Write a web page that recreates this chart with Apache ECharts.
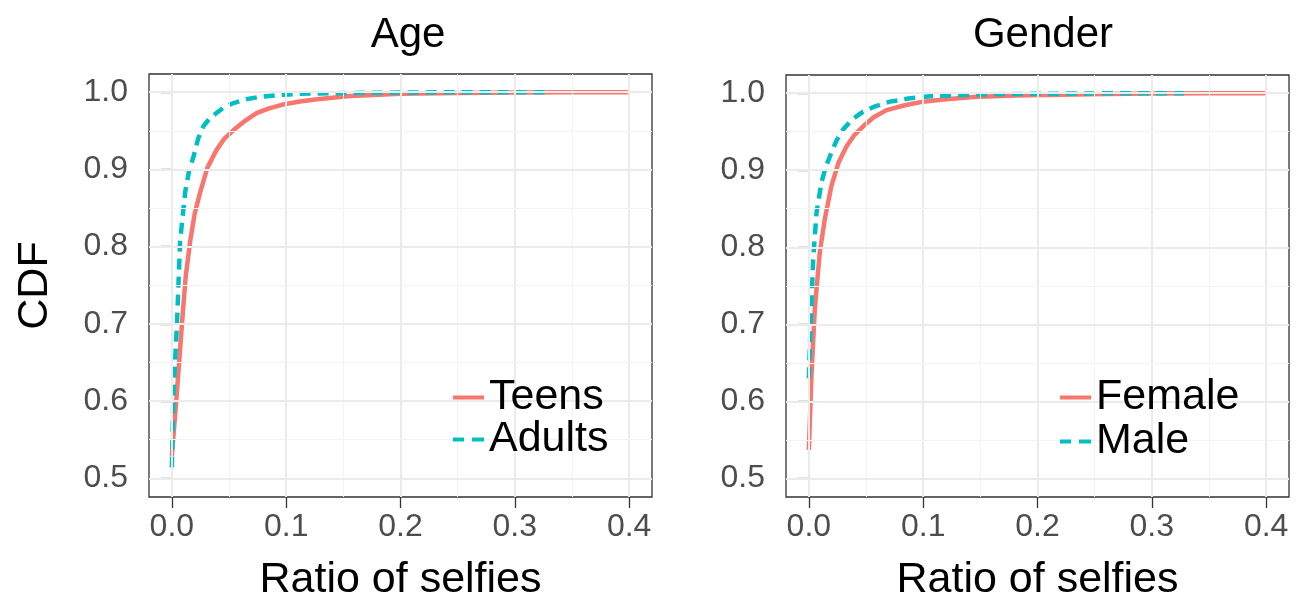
<!DOCTYPE html>
<html><head><meta charset="utf-8">
<script src="https://cdn.jsdelivr.net/npm/echarts@6/dist/echarts.min.js"></script>
<style>html,body{margin:0;padding:0;background:#fff}#c{width:1307px;height:607px}</style>
</head><body><div id="c"></div>
<script>
const panelTitles = ['Age', 'Gender'];
const xTitle = 'Ratio of selfies';
const yTitle = 'CDF';
const xTicks = [0, 0.1, 0.2, 0.3, 0.4];
const xMinor = [0.05, 0.15, 0.25, 0.35];
const yTicks = [0.5, 0.6, 0.7, 0.8, 0.9, 1.0];
const yMinor = [0.55, 0.65, 0.75, 0.85, 0.95];

const teensX = [0, 0.0044, 0.0087, 0.012, 0.016, 0.02, 0.0247, 0.031, 0.039, 0.046, 0.054, 0.064, 0.074, 0.085, 0.097, 0.112, 0.127, 0.156, 0.2, 0.25, 0.3, 0.35, 0.4];
const teensY = [0.529, 0.611, 0.697, 0.76, 0.807, 0.843, 0.870, 0.902, 0.925, 0.940, 0.951, 0.963, 0.973, 0.979, 0.984, 0.988, 0.991, 0.995, 0.998, 0.999, 0.9995, 1.0, 1.0];
const adultsX = [0, 0.0014, 0.0044, 0.0072, 0.0116, 0.015, 0.019, 0.023, 0.0276, 0.033, 0.039, 0.046, 0.054, 0.065, 0.077, 0.093, 0.112, 0.15, 0.2, 0.25, 0.3, 0.326];
const adultsY = [0.514, 0.611, 0.697, 0.807, 0.870, 0.898, 0.917, 0.940, 0.956, 0.966, 0.973, 0.981, 0.986, 0.991, 0.994, 0.996, 0.998, 0.999, 0.9995, 1.0, 1.0, 1.0];
const femaleX = [0, 0.0023, 0.0052, 0.0096, 0.014, 0.0198, 0.026, 0.033, 0.04, 0.0475, 0.057, 0.068, 0.083, 0.10, 0.12, 0.144, 0.18, 0.22, 0.26, 0.3, 0.35, 0.4];
const femaleY = [0.537, 0.634, 0.720, 0.794, 0.837, 0.880, 0.910, 0.931, 0.946, 0.957, 0.969, 0.978, 0.984, 0.989, 0.992, 0.995, 0.997, 0.998, 0.999, 0.9995, 1.0, 1.0];
const maleX = [0, 0.0015, 0.0038, 0.0067, 0.011, 0.0145, 0.0184, 0.024, 0.030, 0.038, 0.0475, 0.058, 0.071, 0.087, 0.106, 0.14, 0.18, 0.23, 0.28, 0.328];
const maleY = [0.630, 0.699, 0.785, 0.845, 0.884, 0.903, 0.918, 0.938, 0.953, 0.966, 0.976, 0.983, 0.989, 0.993, 0.996, 0.998, 0.999, 0.9995, 1.0, 1.0];

const RED = '#F8766D', TEAL = '#00BFC4';
const FONT = 'Liberation Sans';
const zip = (a, b) => a.map((v, i) => [v, b[i]]);

const grids = [
  {left: 149, top: 74, width: 503, height: 424, show: true, borderColor: '#333', borderWidth: 1.3, backgroundColor: 'transparent'},
  {left: 786, top: 75, width: 503, height: 425, show: true, borderColor: '#333', borderWidth: 1.3, backgroundColor: 'transparent'}
];

function xAxis(i) {
  return {
    type: 'value', gridIndex: i, min: -0.02, max: 0.42,
    axisLine: {show: false},
    splitLine: {show: false},
    axisTick: {show: true, length: 11, lineStyle: {color: '#333', width: 1.3}, customValues: xTicks},
    axisLabel: {customValues: xTicks, formatter: v => v.toFixed(1), fontSize: 32, color: '#4d4d4d', fontFamily: FONT, margin: 14},
    name: xTitle, nameLocation: 'middle', nameGap: 62,
    nameTextStyle: {fontSize: 43, color: '#000', fontFamily: FONT}
  };
}
function yAxis(i) {
  return {
    type: 'value', gridIndex: i, min: 0.4758, max: 1.0236,
    axisLine: {show: false},
    splitLine: {show: false},
    axisTick: {show: true, length: 11, lineStyle: {color: '#333', width: 1.3}, customValues: yTicks},
    axisLabel: {customValues: yTicks, formatter: v => v.toFixed(1), fontSize: 32, color: '#4d4d4d', fontFamily: FONT, margin: 21},
    name: i === 0 ? yTitle : '', nameLocation: 'middle', nameGap: 92,
    nameTextStyle: {fontSize: 43, color: '#000', fontFamily: FONT}
  };
}

function gridSeries(i) {
  const major = {color: '#ebebeb', width: 2, type: 'solid'};
  const minor = {color: '#f3f3f3', width: 1, type: 'solid'};
  const data = [];
  xTicks.forEach(v => data.push({xAxis: v, lineStyle: major}));
  xMinor.forEach(v => data.push({xAxis: v, lineStyle: minor}));
  yTicks.forEach(v => data.push({yAxis: v, lineStyle: major}));
  yMinor.forEach(v => data.push({yAxis: v, lineStyle: minor}));
  return {
    type: 'line', xAxisIndex: i, yAxisIndex: i, data: [[0.2, 0.75]], symbol: 'none',
    lineStyle: {opacity: 0}, silent: true, z: 1, legendHoverLink: false,
    markLine: {silent: true, symbol: 'none', label: {show: false}, animation: false, data: data}
  };
}
function lineSeries(name, i, xs, ys, color, dashed) {
  return {
    name: name, type: 'line', xAxisIndex: i, yAxisIndex: i, data: zip(xs, ys),
    symbol: 'none', smooth: false, z: 3,
    lineStyle: {color: color, width: 4.5, type: dashed ? [11, 7] : 'solid'},
    itemStyle: {color: color}
  };
}

const SOLID_ICON = 'path://M0,0h31v4h-31z';
const DASH_ICON = 'path://M0,0h11v4h-11z M19,0h12v4h-12z';
const legendText = {fontSize: 43, color: '#000', fontFamily: FONT, lineHeight: 39};
function legend(names, left, top, gap) {
  return {
    data: [{name: names[0], icon: SOLID_ICON}, {name: names[1], icon: DASH_ICON}],
    orient: 'vertical', left: left, top: top, padding: 0, itemGap: gap,
    itemWidth: 31, itemHeight: 4.5, textStyle: legendText, z: 10
  };
}
const option = {
  animation: false,
  backgroundColor: '#fff',
  title: [
    {text: panelTitles[0], left: 403, top: 9, textAlign: 'center', textStyle: {fontSize: 42, fontWeight: 'normal', color: '#000', fontFamily: FONT}},
    {text: panelTitles[1], left: 1038, top: 9, textAlign: 'center', textStyle: {fontSize: 42, fontWeight: 'normal', color: '#000', fontFamily: FONT}}
  ],
  legend: [
    legend(['Teens', 'Adults'], 453, 376, -1),
    legend(['Female', 'Male'], 1060, 376, 1)
  ],
  grid: grids,
  xAxis: [xAxis(0), xAxis(1)],
  yAxis: [yAxis(0), yAxis(1)],
  series: [
    gridSeries(0), gridSeries(1),
    lineSeries('Teens', 0, teensX, teensY, RED, false),
    lineSeries('Adults', 0, adultsX, adultsY, TEAL, true),
    lineSeries('Female', 1, femaleX, femaleY, RED, false),
    lineSeries('Male', 1, maleX, maleY, TEAL, true)
  ]
};
const chart = echarts.init(document.getElementById('c'), null, {renderer: 'canvas'});
chart.setOption(option);
</script>
</body></html>
